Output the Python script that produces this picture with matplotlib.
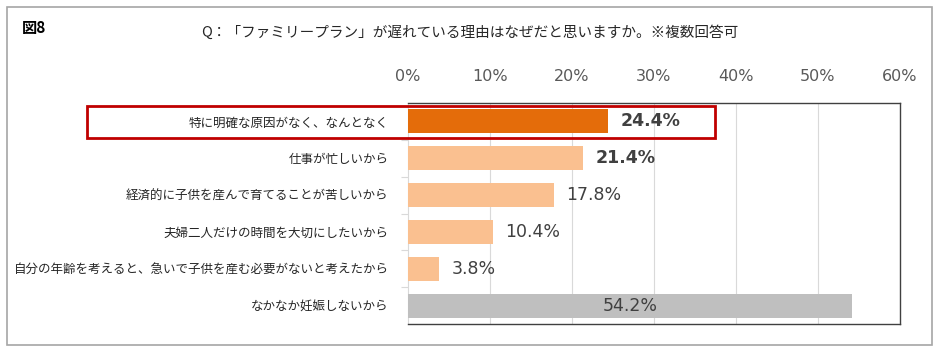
import matplotlib.pyplot as plt
from matplotlib.patches import Rectangle

plt.rcParams['font.family'] = ['Noto Sans CJK JP', 'DejaVu Sans']

# ---- data ----
categories = [
    "特に明確な原因がなく、なんとなく",
    "仕事が忙しいから",
    "経済的に子供を産んで育てることが苦しいから",
    "夫婦二人だけの時間を大切にしたいから",
    "自分の年齢を考えると、急いで子供を産む必要がないと考えたから",
    "なかなか妊娠しないから",
]
values = [24.4, 21.4, 17.8, 10.4, 3.8, 54.2]
bold_labels = [True, True, False, False, False, False]
tick_values = [0, 10, 20, 30, 40, 50, 60]
tick_labels = ["0%", "10%", "20%", "30%", "40%", "50%", "60%"]
title = "Q：「ファミリープラン」が遅れている理由はなぜだと思いますか。※複数回答可"

colors = ["#E46C0A", "#FAC090", "#FAC090", "#FAC090", "#FAC090", "#BFBFBF"]
W, H = 940, 356
num_font = "DejaVu Sans"

fig = plt.figure(figsize=(W / 100, H / 100), dpi=100)
ax = fig.add_axes([408 / W, 1 - 324 / H, (900 - 408) / W, (324 - 103) / H])

ypos = list(range(len(categories)))
ax.barh(ypos, values, height=0.65, color=colors, zorder=3)
ax.set_xlim(0, 60)
ax.set_ylim(len(categories) - 0.5, -0.5)

# gridlines
for t in tick_values[1:-1]:
    ax.axvline(t, color="#D9D9D9", lw=0.8, zorder=1)

# ticks on top
ax.xaxis.tick_top()
ax.set_xticks(tick_values)
ax.set_xticklabels(tick_labels, fontsize=11.5, color="#595959", family=num_font)
ax.tick_params(axis="x", length=0, pad=14)

ax.set_yticks(ypos)
ax.set_yticklabels(categories, fontsize=9, color="#262626")
ax.tick_params(axis="y", which="major", length=0, pad=14)
ax.set_yticks([i + 0.5 for i in range(len(categories) - 1)], minor=True)
ax.tick_params(axis="y", which="minor", length=5, color="#D9D9D9", width=0.8)

for s in ["top", "right", "bottom"]:
    ax.spines[s].set_color("#404040")
    ax.spines[s].set_linewidth(1.0)
ax.spines["left"].set_color("#D9D9D9")

# value labels
for i, v in enumerate(values):
    if v > 50:
        ax.text(v / 2, i, f"{v}%", ha="center", va="center", fontsize=12.5,
                color="#404040", family=num_font, zorder=4)
    else:
        ax.text(v + 1.5, i, f"{v}%", ha="left", va="center", fontsize=12.5,
                color="#404040", family=num_font,
                fontweight="bold" if bold_labels[i] else "normal", zorder=4)

# highlight box
fig.patches.append(Rectangle((87 / W, 1 - 138 / H), (715 - 87) / W, (138 - 106) / H,
                             transform=fig.transFigure, fill=False,
                             edgecolor="#C00000", lw=2, zorder=10))
# outer border
fig.patches.append(Rectangle((7 / W, 1 - 345 / H), (932 - 7) / W, (345 - 7) / H,
                             transform=fig.transFigure, fill=False,
                             edgecolor="#A6A6A6", lw=1.2))

fig.text(22 / W, 1 - 28 / H, "図8", fontsize=11, fontweight="bold", va="center")
fig.text(470 / W, 1 - 33 / H, title, fontsize=10.5, ha="center", va="center",
         color="#262626")

fig.savefig("out.png", dpi=100)
